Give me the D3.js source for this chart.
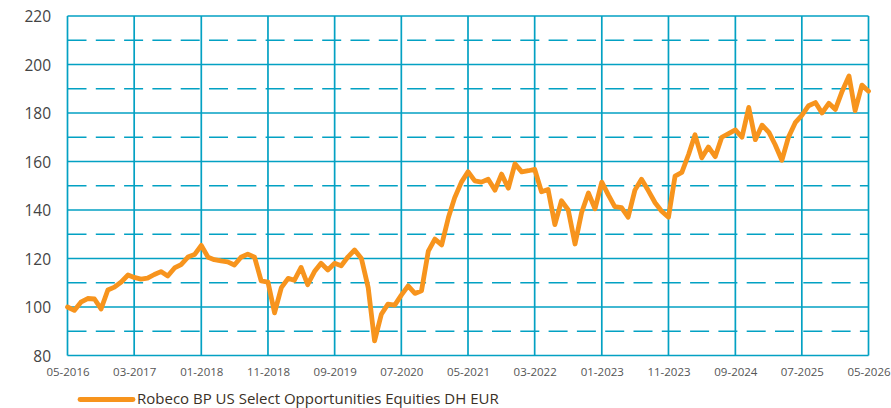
<!DOCTYPE html>
<html>
<head>
<meta charset="utf-8">
<script src="https://cdn.jsdelivr.net/npm/d3@7"></script>
<style>
  body { margin: 0; background: #fff; }
  svg { display: block; font-family: "Open Sans", "Noto Sans", sans-serif; }
</style>
</head>
<body>
<div id="chart"></div>
<script>
// Monthly index values, 05-2016 .. 05-2026
const seriesName = "Robeco BP US Select Opportunities Equities DH EUR";
const startMonth = "05-2016";
const values = [
  100, 98.6, 102, 103.5, 103.3, 99.2, 107, 108.2, 110.3, 113.2, 112.2, 111.5, 111.9, 113.4, 114.6, 112.8, 116.1, 117.5, 120.6, 121.6, 125.4,
  120.5, 119.5, 119, 118.6, 117.3, 120.5, 121.8, 120.5, 110.8, 110.3, 97.6, 108, 111.8, 111, 116.3, 109.2, 114.6, 118, 115.3, 118,
  117, 120.7, 123.5, 120, 108, 86, 97, 101.2, 100.8, 104.9, 108.7, 105.6, 106.7, 123, 128, 125.6, 137, 145, 151.5, 155.8,
  152, 151.5, 152.7, 148.2, 154.8, 149, 159, 155.7, 156.2, 156.8, 147.5, 148.5, 134, 143.8, 140, 126, 139, 147, 140.5, 151.5,
  146, 141.4, 141, 137, 148.2, 152.7, 148, 143, 139.5, 137, 154, 155.5, 163, 171, 161.5, 166, 162, 170, 171.5, 173, 170,
  182.3, 169, 175, 172, 167, 160.5, 170, 176, 179, 183, 184.3, 180, 184, 181.5, 189, 195.3, 181, 191.5, 189
];
const xTickLabels = ["05-2016", "03-2017", "01-2018", "11-2018", "09-2019", "07-2020",
  "05-2021", "03-2022", "01-2023", "11-2023", "09-2024", "07-2025", "05-2026"];
const yTicks = [80, 100, 120, 140, 160, 180, 200, 220];
const yMinorTicks = [90, 110, 130, 150, 170, 190, 210];

const width = 891, height = 408;
const margin = { top: 16, right: 22.5, bottom: 52.5, left: 67.5 };
const innerW = width - margin.left - margin.right;
const innerH = height - margin.top - margin.bottom;

const gridColor = "#03a1c3";
const lineColor = "#f7941d";

const parseM = d3.timeParse("%m-%Y");
const start = parseM(startMonth);
const data = values.map((v, i) => ({ date: d3.timeMonth.offset(start, i), value: v }));
const tickDates = xTickLabels.map(parseM);

const svg = d3.select("#chart").append("svg")
  .attr("width", width)
  .attr("height", height);

const g = svg.append("g")
  .attr("transform", `translate(${margin.left},${margin.top})`);

const x = d3.scaleTime()
  .domain([tickDates[0], tickDates[tickDates.length - 1]])
  .range([0, innerW]);

const y = d3.scaleLinear()
  .domain([80, 220])
  .range([innerH, 0]);

// dashed minor grid
g.append("g")
  .selectAll("line")
  .data(yMinorTicks)
  .join("line")
  .attr("x1", 0)
  .attr("x2", innerW)
  .attr("y1", d => y(d))
  .attr("y2", d => y(d))
  .attr("stroke", gridColor)
  .attr("stroke-width", 1.7)
  .attr("stroke-dasharray", "19,9.3");

// solid horizontal grid
g.append("g")
  .selectAll("line")
  .data(yTicks)
  .join("line")
  .attr("x1", 0)
  .attr("x2", innerW)
  .attr("y1", d => y(d))
  .attr("y2", d => y(d))
  .attr("stroke", gridColor)
  .attr("stroke-width", 1.7);

// vertical grid
g.append("g")
  .selectAll("line")
  .data(tickDates)
  .join("line")
  .attr("x1", d => x(d))
  .attr("x2", d => x(d))
  .attr("y1", 0)
  .attr("y2", innerH)
  .attr("stroke", gridColor)
  .attr("stroke-width", 1.7);

// y labels
const yAxis = g.append("g")
  .call(d3.axisLeft(y).tickValues(yTicks).tickSize(0).tickPadding(16.5));
yAxis.select(".domain").remove();
yAxis.selectAll("text")
  .attr("font-family", "\"Open Sans\", sans-serif")
  .attr("font-size", "15.5px")
  .attr("fill", "#444")
  .attr("dy", "0.36em");

// x labels
const xAxis = g.append("g")
  .attr("transform", `translate(0,${innerH})`)
  .call(d3.axisBottom(x).tickValues(tickDates).tickFormat(d3.timeFormat("%m-%Y")).tickSize(0).tickPadding(12));
xAxis.select(".domain").remove();
xAxis.selectAll("text")
  .attr("font-family", "\"Open Sans\", sans-serif")
  .attr("font-size", "11.5px")
  .attr("fill", "#555");

// series line
const line = d3.line()
  .x(d => x(d.date))
  .y(d => y(d.value));

g.append("path")
  .datum(data)
  .attr("fill", "none")
  .attr("stroke", lineColor)
  .attr("stroke-width", 4.8)
  .attr("stroke-linejoin", "round")
  .attr("stroke-linecap", "round")
  .attr("d", line);

// legend
const legend = svg.append("g")
  .attr("transform", "translate(80,399.5)");
legend.append("line")
  .attr("x1", 0)
  .attr("x2", 53)
  .attr("stroke", lineColor)
  .attr("stroke-width", 4.8)
  .attr("stroke-linecap", "round");
legend.append("text")
  .attr("x", 57)
  .attr("y", 4.5)
  .attr("font-size", "15px")
  .attr("fill", "#3a3026")
  .text(seriesName);
</script>
</body>
</html>
